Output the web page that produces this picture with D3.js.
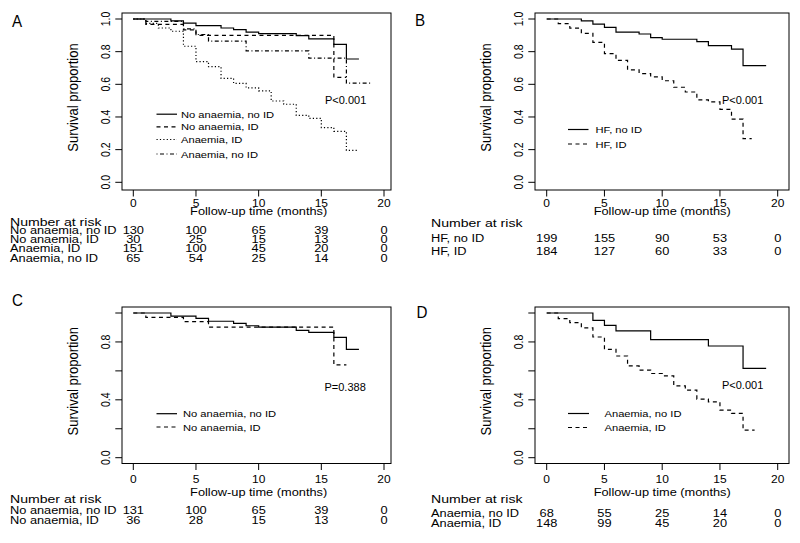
<!DOCTYPE html>
<html>
<head>
<meta charset="utf-8">
<title>Survival by anaemia and iron deficiency</title>
<script src="https://d3js.org/d3.v7.min.js"></script>
<style>
  body { margin: 0; background: #fff; }
  svg { display: block; font-family: "Liberation Sans", Arial, Helvetica, sans-serif; }
  text { fill: #000; }
  .box { fill: none; stroke: #000; stroke-width: 1; }
  .tick-line { stroke: #000; stroke-width: 1; }
  .km { fill: none; stroke: #000; stroke-width: 1.2; }
</style>
</head>
<body>
<div id="chart"></div>
<script>
// axis ticks
const monthTicks = [0, 5, 10, 15, 20];
const survTicks = [0, 0.2, 0.4, 0.6, 0.8, 1.0];
const survLabelsFull = [0, 0.2, 0.4, 0.6, 0.8, 1.0];
const survLabelsSparse = [0, 0.4, 0.8];

// panel A curves (time in months, survival proportion after each step)
const aNoAnaemiaNoIdTime = [0, 3, 4, 5, 7, 8, 9, 10, 13, 14, 16, 17, 18];
const aNoAnaemiaNoIdSurv = [1, 0.988, 0.975, 0.96, 0.945, 0.935, 0.92, 0.91, 0.898, 0.878, 0.845, 0.755, 0.755];
const aNoAnaemiaIdTime = [0, 1, 4, 5, 16, 17];
const aNoAnaemiaIdSurv = [1, 0.967, 0.933, 0.9, 0.642, 0.642];
const aAnaemiaIdTime = [0, 1, 2, 3, 4, 5, 6, 7, 8, 9, 10, 11, 12, 13, 14, 15, 16, 17, 18];
const aAnaemiaIdSurv = [1, 0.973, 0.945, 0.925, 0.833, 0.739, 0.708, 0.637, 0.606, 0.578, 0.56, 0.498, 0.478, 0.41, 0.392, 0.335, 0.312, 0.196, 0.196];
const aAnaemiaNoIdTime = [0, 1, 4, 5, 6, 9, 14, 17, 19];
const aAnaemiaNoIdSurv = [1, 0.985, 0.94, 0.905, 0.865, 0.805, 0.76, 0.607, 0.607];

// panel B curves
const bNoIdTime = [0, 3, 4, 5, 6, 8, 9, 10, 13, 14, 16, 17, 19];
const bNoIdSurv = [1, 0.988, 0.969, 0.949, 0.92, 0.908, 0.886, 0.876, 0.861, 0.837, 0.816, 0.714, 0.714];
const bIdTime = [0, 1, 2, 3, 4, 5, 6, 7, 8, 9, 10, 11, 12, 13, 14, 15, 16, 17, 17.75];
const bIdSurv = [1, 0.972, 0.944, 0.912, 0.857, 0.788, 0.747, 0.689, 0.666, 0.646, 0.622, 0.582, 0.553, 0.505, 0.492, 0.447, 0.387, 0.267, 0.267];

// panel C curves
const cNoAnaemiaNoIdTime = [0, 3, 5, 6, 8, 9, 10, 13, 14, 16, 17, 18];
const cNoAnaemiaNoIdSurv = [1, 0.978, 0.963, 0.943, 0.928, 0.912, 0.902, 0.88, 0.866, 0.832, 0.748, 0.748];
const cNoAnaemiaIdTime = [0, 1, 4, 6, 16, 17];
const cNoAnaemiaIdSurv = [1, 0.97, 0.94, 0.902, 0.642, 0.642];

// panel D curves
const dAnaemiaNoIdTime = [0, 4, 5, 6, 9, 14, 17, 19];
const dAnaemiaNoIdSurv = [1, 0.949, 0.915, 0.876, 0.816, 0.772, 0.618, 0.618];
const dAnaemiaIdTime = [0, 1, 2, 3, 4, 5, 6, 7, 8, 9, 10, 11, 12, 13, 14, 15, 16, 17, 18];
const dAnaemiaIdSurv = [1, 0.961, 0.933, 0.897, 0.834, 0.749, 0.703, 0.634, 0.605, 0.582, 0.566, 0.497, 0.467, 0.405, 0.386, 0.329, 0.306, 0.191, 0.191];

// number at risk at 0, 5, 10, 15, 20 months
const riskA = [
  ["No anaemia, no ID", [130, 100, 65, 39, 0]],
  ["No anaemia, ID", [30, 25, 15, 13, 0]],
  ["Anaemia, ID", [151, 100, 45, 20, 0]],
  ["Anaemia, no ID", [65, 54, 25, 14, 0]]
];
const riskB = [
  ["HF, no ID", [199, 155, 90, 53, 0]],
  ["HF, ID", [184, 127, 60, 33, 0]]
];
const riskC = [
  ["No anaemia, no ID", [131, 100, 65, 39, 0]],
  ["No anaemia, ID", [36, 28, 15, 13, 0]]
];
const riskD = [
  ["Anaemia, no ID", [68, 55, 25, 14, 0]],
  ["Anaemia, ID", [148, 99, 45, 20, 0]]
];

// line types (R lty 1..4)
const dash = { solid: null, dashed: "4,3.5", dotted: "1.2,2.2", dotdash: "1,2.5,4,2.5" };

// panel layout: box, scale anchors and text positions
const panels = [
  {
    letter: "A", letterPos: [12, 26.7],
    box: { l: 122, r: 391, t: 13, b: 190 }, xr: [133.3, 384], yr: [182.3, 19],
    yLabels: survLabelsFull,
    curves: [
      { name: "No anaemia, no ID", time: aNoAnaemiaNoIdTime, surv: aNoAnaemiaNoIdSurv, lty: "solid" },
      { name: "No anaemia, ID", time: aNoAnaemiaIdTime, surv: aNoAnaemiaIdSurv, lty: "dashed" },
      { name: "Anaemia, ID", time: aAnaemiaIdTime, surv: aAnaemiaIdSurv, lty: "dotted" },
      { name: "Anaemia, no ID", time: aAnaemiaNoIdTime, surv: aAnaemiaNoIdSurv, lty: "dotdash" }
    ],
    legend: { x1: 156.5, x2: 177, tx: 181, rows: [114.2, 126.8, 139.5, 154] },
    p: { text: "P<0.001", x: 325, y: 103.6 },
    tickY: 206.8, titleY: 215.3, riskTitleY: 226.3, riskX: 10,
    riskRows: [233.6, 242.9, 252.3, 261.6], risk: riskA
  },
  {
    letter: "B", letterPos: [415, 26],
    box: { l: 535, r: 789, t: 13, b: 190 }, xr: [546.7, 777.7], yr: [182.3, 19],
    yLabels: survLabelsFull,
    curves: [
      { name: "HF, no ID", time: bNoIdTime, surv: bNoIdSurv, lty: "solid" },
      { name: "HF, ID", time: bIdTime, surv: bIdSurv, lty: "dashed" }
    ],
    legend: { x1: 568, x2: 588.5, tx: 595.5, rows: [129.5, 144] },
    p: { text: "P<0.001", x: 722, y: 103.6 },
    tickY: 206.8, titleY: 215.3, riskTitleY: 227.3, riskX: 431,
    riskRows: [241.8, 254.6], risk: riskB
  },
  {
    letter: "C", letterPos: [12, 306],
    box: { l: 122, r: 391, t: 307, b: 463.5 }, xr: [133.3, 384], yr: [457.7, 313],
    yLabels: survLabelsSparse,
    curves: [
      { name: "No anaemia, no ID", time: cNoAnaemiaNoIdTime, surv: cNoAnaemiaNoIdSurv, lty: "solid" },
      { name: "No anaemia, ID", time: cNoAnaemiaIdTime, surv: cNoAnaemiaIdSurv, lty: "dashed" }
    ],
    legend: { x1: 156.5, x2: 177, tx: 183, rows: [413.7, 427] },
    p: { text: "P=0.388", x: 324.5, y: 391 },
    tickY: 482.8, titleY: 495.8, riskTitleY: 502.8, riskX: 10,
    riskRows: [513.6, 524.3], risk: riskC
  },
  {
    letter: "D", letterPos: [416.5, 318.3],
    box: { l: 535, r: 789, t: 307, b: 463.5 }, xr: [546.7, 777.7], yr: [457.7, 313],
    yLabels: survLabelsSparse,
    curves: [
      { name: "Anaemia, no ID", time: dAnaemiaNoIdTime, surv: dAnaemiaNoIdSurv, lty: "solid" },
      { name: "Anaemia, ID", time: dAnaemiaIdTime, surv: dAnaemiaIdSurv, lty: "dashed" }
    ],
    legend: { x1: 568, x2: 589, tx: 604.5, rows: [413.5, 427.5] },
    p: { text: "P<0.001", x: 722, y: 389.4 },
    tickY: 482.8, titleY: 495.8, riskTitleY: 503.3, riskX: 431,
    riskRows: [516.8, 526.8], risk: riskD
  }
];

const svg = d3.select("#chart").append("svg")
  .attr("width", 800)
  .attr("height", 543);

// text helper: the picture is horizontally stretched, so scale glyphs in x
function label(g, x, y, str, fs, sx, anchor, rot) {
  return g.append("text")
    .attr("transform", `translate(${x},${y}) scale(${sx},1)` + (rot ? " rotate(-90)" : ""))
    .attr("font-size", fs)
    .attr("text-anchor", anchor || "start")
    .text(str);
}

panels.forEach(p => {
  const g = svg.append("g");
  const x = d3.scaleLinear().domain([0, 20]).range(p.xr);
  const y = d3.scaleLinear().domain([0, 1]).range(p.yr);
  const b = p.box;

  // curves
  const line = d3.line()
    .x(d => x(d[0]))
    .y(d => y(d[1]))
    .curve(d3.curveStepAfter);

  p.curves.forEach(c => {
    g.append("path")
      .attr("class", "km")
      .attr("d", line(d3.zip(c.time, c.surv)))
      .attr("stroke-dasharray", dash[c.lty]);
  });

  // box
  g.append("rect")
    .attr("class", "box")
    .attr("x", b.l).attr("y", b.t)
    .attr("width", b.r - b.l).attr("height", b.b - b.t);

  // x ticks
  monthTicks.forEach(m => {
    g.append("line").attr("class", "tick-line")
      .attr("x1", x(m)).attr("x2", x(m))
      .attr("y1", b.b).attr("y2", b.b + 6.5);
    label(g, x(m), p.tickY, m, 10, 1.2, "middle");
  });

  // y ticks
  survTicks.forEach(v => {
    g.append("line").attr("class", "tick-line")
      .attr("x1", b.l - 6.7).attr("x2", b.l)
      .attr("y1", y(v)).attr("y2", y(v));
  });
  p.yLabels.forEach(v => {
    label(g, b.l - 12, y(v), d3.format(".1f")(v), 10.5, 1.15, "middle", true);
  });

  // axis titles
  label(g, b.l - 44.5, (b.t + b.b) / 2 - 4, "Survival proportion", 13, 1.1, "middle", true);
  label(g, (x(0) + x(20)) / 2, p.titleY, "Follow-up time (months)", 10, 1.28, "middle");

  // panel letter
  label(g, p.letterPos[0], p.letterPos[1], p.letter, 16, 0.95, "start");

  // legend
  p.curves.forEach((c, i) => {
    const ly = p.legend.rows[i];
    g.append("line")
      .attr("class", "km")
      .attr("x1", p.legend.x1).attr("x2", p.legend.x2)
      .attr("y1", ly).attr("y2", ly)
      .attr("stroke-dasharray", dash[c.lty]);
    label(g, p.legend.tx, ly + 3.5, c.name, 9.8, 1.14, "start");
  });

  // p value
  label(g, p.p.x, p.p.y, p.p.text, 10, 1.1, "start");

  // number at risk table
  label(g, p.riskX, p.riskTitleY, "Number at risk", 11, 1.28, "start");
  p.risk.forEach(([name, counts], i) => {
    const ry = p.riskRows[i];
    label(g, p.riskX, ry, name, 10, 1.28, "start");
    counts.forEach((n, j) => {
      label(g, x(monthTicks[j]), ry, n, 10, 1.28, "middle");
    });
  });
});
</script>
</body>
</html>
